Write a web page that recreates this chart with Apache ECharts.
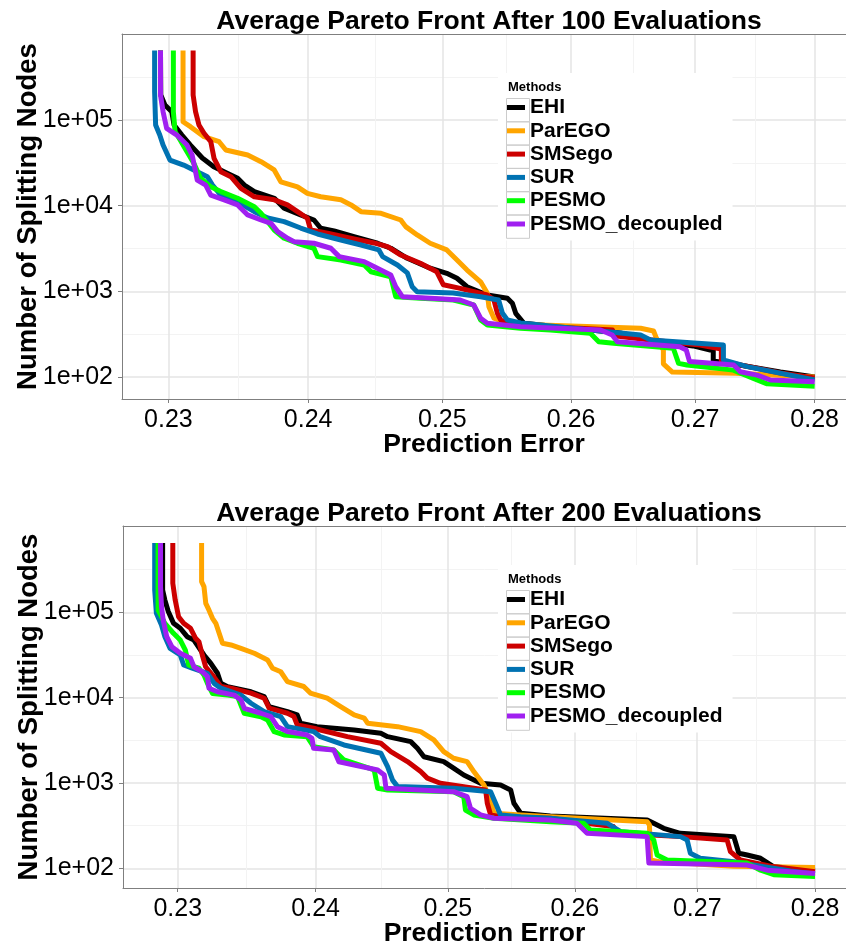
<!DOCTYPE html>
<html><head><meta charset="utf-8">
<script src="https://cdn.jsdelivr.net/npm/echarts@6/dist/echarts.min.js"></script>
<style>html,body{margin:0;padding:0;background:#fff}#c{width:846px;height:948px}</style>
</head><body><div id="c"></div>
<script>
// ---- categories / ticks ----
const methods = ['EHI', 'ParEGO', 'SMSego', 'SUR', 'PESMO', 'PESMO_decoupled'];
const colors = ['#000000', '#FFA500', '#CC0000', '#0072B2', '#00FF00', '#A020F0'];
const xTicks = [0.23, 0.24, 0.25, 0.26, 0.27, 0.28];
const yTicks = [100, 1000, 10000, 100000];
const panelTitles = ['Average Pareto Front After 100 Evaluations', 'Average Pareto Front After 200 Evaluations'];
const xTitle = 'Prediction Error';
const yTitle = 'Number of Splitting Nodes';
const legendTitle = 'Methods';

// ---- data: [prediction error, splitting nodes] ----
const ehi100 = [[0.22945,650000],[0.22947,196000],[0.22976,150000],[0.23024,125000],[0.2304,87500],[0.23095,66800],[0.23155,51000],[0.23239,36000],[0.2332,28500],[0.23419,23800],[0.2349,20900],[0.23538,17400],[0.2361,14600],[0.23754,12200],[0.23825,9330],[0.23945,7790],[0.24042,6800],[0.24092,5450],[0.2419,5060],[0.24337,4340],[0.24512,3640],[0.24611,3180],[0.24735,2430],[0.24908,1860],[0.25034,1620],[0.25112,1420],[0.25189,1130],[0.25345,906],[0.255,828],[0.25539,724],[0.25565,553],[0.25629,423],[0.25836,393],[0.26393,326],[0.26635,270],[0.26982,230],[0.27124,206],[0.27149,206],[0.27149,154],[0.27416,134],[0.27709,114],[0.28,100]];
const parego100 = [[0.23103,650000],[0.23103,95500],[0.23155,83600],[0.23251,63800],[0.23358,55800],[0.23406,44700],[0.23562,39000],[0.23658,32600],[0.23753,26100],[0.23801,19000],[0.23922,16600],[0.23994,13900],[0.24092,12700],[0.2424,11700],[0.24315,10200],[0.24389,8510],[0.24538,8150],[0.24686,6800],[0.24723,5690],[0.2481,4550],[0.24908,3640],[0.25034,3040],[0.25112,2320],[0.25189,1770],[0.25293,1290],[0.25345,948],[0.25357,661],[0.25396,484],[0.255,423],[0.25758,404],[0.26555,370],[0.2666,344],[0.26684,282],[0.2674,206],[0.2674,142],[0.26813,114],[0.27333,110],[0.28,100]];
const smsego100 = [[0.23174,650000],[0.23174,196000],[0.23191,125000],[0.23215,87500],[0.23251,70000],[0.23299,55800],[0.23322,35700],[0.2337,24900],[0.23442,21800],[0.23514,15900],[0.2361,12700],[0.23754,11700],[0.23849,10200],[0.23922,8510],[0.23994,7130],[0.24018,5200],[0.24142,4760],[0.24337,4080],[0.24486,3670],[0.24587,3320],[0.24686,2650],[0.24834,2120],[0.24958,1690],[0.25008,1190],[0.25137,1080],[0.25345,906],[0.25396,791],[0.25423,553],[0.25448,462],[0.25552,404],[0.25836,386],[0.26329,353],[0.26361,300],[0.26635,270],[0.2704,236],[0.27216,212],[0.27216,154],[0.27416,134],[0.27709,111],[0.28,97]];
const sur100 = [[0.22904,650000],[0.22904,214000],[0.22911,87500],[0.2294,66800],[0.22963,51000],[0.23011,34100],[0.23107,29800],[0.23203,24900],[0.23275,21800],[0.23311,17400],[0.2337,13300],[0.2349,11100],[0.2361,8510],[0.23706,7180],[0.23825,6500],[0.23945,5480],[0.24068,4670],[0.2424,3970],[0.24389,3470],[0.24522,3040],[0.2455,2540],[0.24661,2030],[0.24735,1640],[0.24772,1130],[0.24809,990],[0.25083,955],[0.25293,865],[0.25432,791],[0.25461,557],[0.255,462],[0.25603,426],[0.25836,393],[0.26555,308],[0.26635,270],[0.27233,236],[0.27233,158],[0.27431,132],[0.28,92]];
const pesmo100 = [[0.23035,650000],[0.23035,125000],[0.23047,73000],[0.23083,58400],[0.23131,42700],[0.23179,31200],[0.23227,20900],[0.23299,16600],[0.2337,14600],[0.2349,12200],[0.2361,9730],[0.23658,8150],[0.23753,5200],[0.23825,4160],[0.23921,3640],[0.24042,3180],[0.24068,2540],[0.2424,2320],[0.24413,2030],[0.24463,1690],[0.24611,1480],[0.24648,865],[0.24834,828],[0.25085,791],[0.2524,692],[0.25293,462],[0.25345,404],[0.25603,370],[0.25836,353],[0.26152,323],[0.26219,258],[0.26337,247],[0.26821,216],[0.26864,144],[0.26932,138],[0.27316,120],[0.27483,96],[0.27598,83],[0.28,78]];
const decoupled100 = [[0.22945,650000],[0.22945,196000],[0.22963,125000],[0.22988,80000],[0.2306,66800],[0.23131,51000],[0.23167,39000],[0.23203,19900],[0.23263,17400],[0.23299,13300],[0.23394,11700],[0.2349,10200],[0.23562,7790],[0.23658,6800],[0.2373,6220],[0.23778,4970],[0.2385,4160],[0.23897,3800],[0.24042,3640],[0.24166,3180],[0.24228,2540],[0.24413,2220],[0.24488,1940],[0.24611,1550],[0.24648,1130],[0.24698,865],[0.24908,828],[0.25137,791],[0.2524,692],[0.25293,484],[0.25345,423],[0.25603,386],[0.26233,353],[0.26327,308],[0.26368,258],[0.26873,225],[0.26927,206],[0.26954,151],[0.27318,138],[0.27374,115],[0.27514,105],[0.27626,92],[0.28,88]];

const ehi200 = [[0.22893,650000],[0.22893,182000],[0.22909,139000],[0.22933,102000],[0.2297,74300],[0.23018,65000],[0.23067,51800],[0.23115,47300],[0.23187,31600],[0.23236,25200],[0.23284,19300],[0.23308,14700],[0.23357,13400],[0.23526,11700],[0.23622,10300],[0.23658,7850],[0.23792,6850],[0.23864,6270],[0.23888,5010],[0.2401,4570],[0.24287,4180],[0.24488,3820],[0.24539,3490],[0.24715,3050],[0.24766,2550],[0.24816,2030],[0.24968,1780],[0.25044,1490],[0.25123,1240],[0.25254,991],[0.2541,948],[0.25489,828],[0.25515,578],[0.25568,442],[0.25803,411],[0.26586,369],[0.2664,337],[0.26722,294],[0.26859,257],[0.27307,235],[0.27349,150],[0.2742,143],[0.27533,131],[0.27646,104],[0.28,95]];
const parego200 = [[0.2317,650000],[0.2317,229000],[0.23187,200000],[0.232,127000],[0.23223,106000],[0.23248,85100],[0.23272,74300],[0.23296,56700],[0.2332,43400],[0.23381,41400],[0.23453,37800],[0.2355,33100],[0.23647,27600],[0.23683,22100],[0.23743,20100],[0.23792,15400],[0.23912,13500],[0.23961,11300],[0.24086,9840],[0.24186,7850],[0.24287,6280],[0.24363,5740],[0.24388,5010],[0.24615,4570],[0.24791,4000],[0.24892,3190],[0.24968,2330],[0.25044,1950],[0.25149,1780],[0.25201,1360],[0.2528,948],[0.25332,632],[0.25358,442],[0.25568,422],[0.25803,403],[0.26586,352],[0.26605,322],[0.26613,125],[0.26695,119],[0.27304,106],[0.28,102]];
const smsego200 = [[0.22965,650000],[0.22965,219000],[0.22982,139000],[0.23006,88700],[0.23042,74300],[0.23091,65000],[0.23127,49500],[0.23151,45200],[0.23175,31600],[0.23199,23000],[0.23248,18400],[0.23308,13500],[0.23381,12900],[0.23526,11300],[0.23622,9840],[0.23658,7520],[0.23792,6560],[0.2384,6000],[0.23864,4790],[0.23985,4380],[0.24035,4180],[0.24236,3490],[0.24488,2920],[0.24564,2330],[0.2469,1780],[0.24791,1360],[0.24842,1140],[0.24942,991],[0.25123,906],[0.25293,828],[0.25306,578],[0.25332,422],[0.2541,403],[0.25803,386],[0.26093,337],[0.26311,308],[0.2635,257],[0.26861,235],[0.2725,215],[0.27278,157],[0.27363,125],[0.27618,106],[0.28,91]];
const sur200 = [[0.22837,650000],[0.22837,182000],[0.22849,97300],[0.22885,70900],[0.22909,51800],[0.22946,37800],[0.23018,31600],[0.23042,24100],[0.23103,22100],[0.23212,19300],[0.2326,14700],[0.23308,12900],[0.23453,10700],[0.23526,8590],[0.23622,6850],[0.23743,5980],[0.23792,4570],[0.23985,4000],[0.24035,3490],[0.24211,2790],[0.24488,2230],[0.24539,1550],[0.24577,1080],[0.24615,906],[0.25044,867],[0.25332,791],[0.25371,578],[0.2541,422],[0.25568,403],[0.25803,386],[0.26261,337],[0.2637,269],[0.26861,235],[0.26916,215],[0.26943,150],[0.27025,131],[0.27308,119],[0.27535,106],[0.27788,93],[0.28,86]];
const pesmo200 = [[0.22861,650000],[0.22861,106000],[0.22909,74300],[0.2297,56700],[0.23018,47300],[0.23054,36100],[0.23078,24100],[0.23151,22100],[0.23187,18400],[0.23212,14700],[0.23248,11200],[0.23357,10700],[0.23429,10300],[0.23453,8200],[0.23477,6550],[0.23598,5980],[0.23647,5470],[0.23695,3990],[0.23767,3650],[0.23937,3490],[0.23985,2660],[0.24135,2430],[0.24211,1860],[0.24438,1420],[0.24464,867],[0.24539,828],[0.25044,791],[0.25123,690],[0.25136,482],[0.25201,422],[0.25358,386],[0.25803,352],[0.26069,337],[0.26124,281],[0.26586,257],[0.2664,215],[0.26668,143],[0.2675,125],[0.2742,115],[0.27533,95],[0.27646,84],[0.28,80]];
const decoupled200 = [[0.22878,650000],[0.22878,200000],[0.22885,116000],[0.22897,81200],[0.22922,51800],[0.22958,39500],[0.23018,33100],[0.23091,28900],[0.23115,23000],[0.23175,20100],[0.23212,17600],[0.23223,12900],[0.23284,11700],[0.23405,10700],[0.23453,9400],[0.23477,7500],[0.23598,6560],[0.2367,5980],[0.23719,4570],[0.23792,4000],[0.23937,3650],[0.23973,3330],[0.23985,2550],[0.24135,2430],[0.24173,1770],[0.24464,1420],[0.24514,1240],[0.24527,867],[0.25044,791],[0.25149,690],[0.25175,505],[0.25254,422],[0.25358,386],[0.25803,368],[0.26016,337],[0.26098,257],[0.26586,235],[0.266,115],[0.2742,109],[0.2759,95],[0.28,87]];

const data100 = [ehi100, parego100, smsego100, sur100, pesmo100, decoupled100];
const data200 = [ehi200, parego200, smsego200, sur200, pesmo200, decoupled200];

// ---- layout ----
const FONT = "'Liberation Sans', Arial, Helvetica, sans-serif";
const L = Math.log10;
const xMaj = xTicks.map(L);
const yMaj = yTicks.map(L);
const xMin = xMaj.slice(0, -1).map((v, i) => (v + xMaj[i + 1]) / 2);
const yMin = yMaj.map(v => v + 0.5);

const panels = [
  { data: data100, title: panelTitles[0], titleTop: 3, grid: { left: 122, top: 34, width: 724, height: 365 }, xr: [-0.64440, -0.54870], yr: [1.742, 6.0047], legendTop: 73 },
  { data: data200, title: panelTitles[1], titleTop: 495, grid: { left: 123, top: 526, width: 723, height: 362 }, xr: [-0.64561, -0.54869], yr: [1.769, 6.0114], legendTop: 565 }
];

const grids = [], xAxes = [], yAxes = [], series = [], titles = [], legends = [], graphics = [];
const axisColor = '#7f7f7f';
const bold = size => ({ fontSize: size, fontWeight: 'bold', color: '#000', fontFamily: FONT });
panels.forEach((p, k) => {
  grids.push(Object.assign({ containLabel: false, outerBoundsMode: 'none' }, p.grid));
  xAxes.push({
    type: 'value', gridIndex: k, min: p.xr[0], max: p.xr[1], position: 'bottom',
    axisLine: { show: true, onZero: false, lineStyle: { color: axisColor, width: 1 } },
    axisTick: { show: true, length: 4, lineStyle: { color: axisColor }, customValues: xMaj },
    axisLabel: { customValues: xMaj, formatter: v => Math.pow(10, v).toFixed(2), fontSize: 25, color: '#000', margin: 9, fontFamily: FONT },
    splitLine: { show: true, lineStyle: { color: '#e5e5e5', width: 1.5 } },
    name: xTitle, nameLocation: 'middle', nameGap: 32, nameMoveOverlap: false, nameTextStyle: bold(26.5)
  });
  xAxes.push({
    type: 'value', gridIndex: k, min: p.xr[0], max: p.xr[1], position: 'top',
    axisLine: { show: true, onZero: false, lineStyle: { color: axisColor, width: 1 } },
    axisTick: { show: false, customValues: xMin }, axisLabel: { show: false, customValues: xMin },
    splitLine: { show: true, lineStyle: { color: '#f3f3f3', width: 1 } }
  });
  yAxes.push({
    type: 'value', gridIndex: k, min: p.yr[0], max: p.yr[1], position: 'left',
    axisLine: { show: true, onZero: false, lineStyle: { color: axisColor, width: 1 } },
    axisTick: { show: true, length: 4, lineStyle: { color: axisColor }, customValues: yMaj },
    axisLabel: { customValues: yMaj, formatter: v => '1e+' + String(Math.round(v)).padStart(2, '0'), fontSize: 25, color: '#000', margin: 9, fontFamily: FONT },
    splitLine: { show: true, lineStyle: { color: '#e5e5e5', width: 1.5 } },
    name: yTitle, nameLocation: 'middle', nameGap: 80, nameRotate: 90, nameMoveOverlap: false, nameTextStyle: bold(27.5)
  });
  yAxes.push({
    type: 'value', gridIndex: k, min: p.yr[0], max: p.yr[1], position: 'right',
    axisLine: { show: true, onZero: false, lineStyle: { color: axisColor, width: 1 } },
    axisTick: { show: false, customValues: yMin }, axisLabel: { show: false, customValues: yMin },
    splitLine: { show: true, lineStyle: { color: '#f3f3f3', width: 1 } }
  });
  p.data.forEach((arr, i) => {
    series.push({
      type: 'line', name: methods[i], xAxisIndex: 2 * k, yAxisIndex: 2 * k,
      data: arr.map(d => [L(d[0]), L(d[1])]),
      symbol: 'none', showSymbol: false, animation: false,
      lineStyle: { width: 5, color: colors[i], join: 'round' }, itemStyle: { color: colors[i] },
      z: 3 + i
    });
  });
  titles.push({ text: p.title, left: 484, top: p.titleTop, textAlign: 'center', textStyle: bold(26.5) });
  titles.push({ text: legendTitle, left: 503, top: p.legendTop + 3, textStyle: bold(13) });
  legends.push({
    data: methods, orient: 'vertical', left: 498, top: p.legendTop,
    padding: [24, 10, 6, 8], itemGap: 2.3, itemWidth: 19, itemHeight: 5, icon: 'rect',
    backgroundColor: '#fff', selectedMode: false,
    textStyle: bold(21)
  });
  methods.forEach((m, i) => {
    graphics.push({
      type: 'rect', left: 504, top: p.legendTop + 23 + i * 23.3, z: 10,
      shape: { width: 23, height: 23.3 },
      style: { fill: 'none', stroke: '#cccccc', lineWidth: 1 }
    });
  });
});

const chart = echarts.init(document.getElementById('c'), null, { renderer: 'canvas' });
chart.setOption({
  animation: false,
  backgroundColor: '#ffffff',
  title: titles, grid: grids, xAxis: xAxes, yAxis: yAxes,
  legend: legends, series: series, graphic: graphics
});
</script></body></html>
